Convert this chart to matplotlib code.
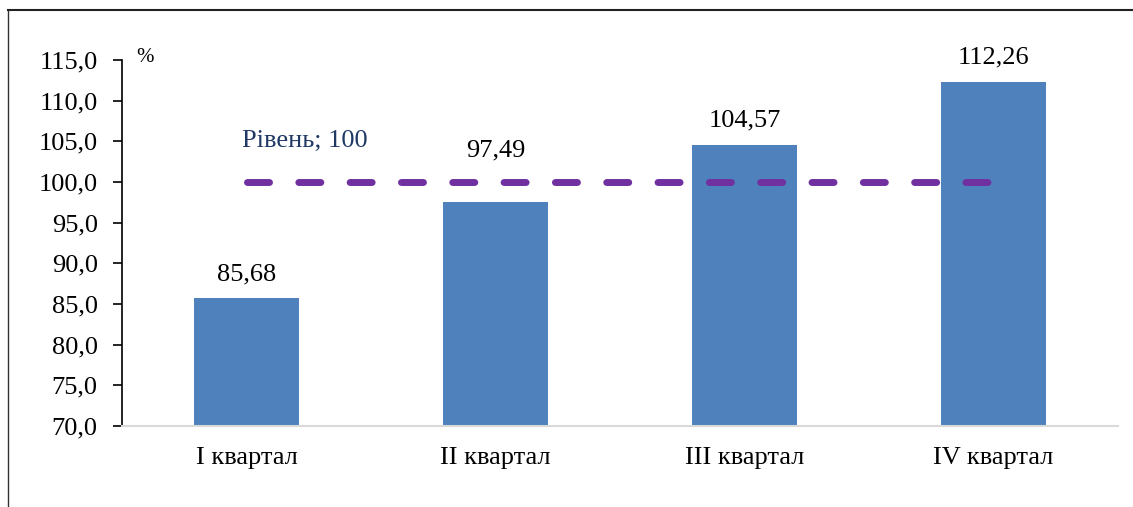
import matplotlib
matplotlib.use("Agg")
import matplotlib.pyplot as plt
from matplotlib.lines import Line2D

categories = ["I квартал", "II квартал", "III квартал", "IV квартал"]
values = [85.68, 97.49, 104.57, 112.26]
value_labels = ["85,68", "97,49", "104,57", "112,26"]
level = 100
level_label = "Рівень; 100"
yticks = [70, 75, 80, 85, 90, 95, 100, 105, 110, 115]
ytick_labels = ["70,0", "75,0", "80,0", "85,0", "90,0", "95,0", "100,0", "105,0", "110,0", "115,0"]

plt.rcParams['font.family'] = ['Liberation Serif', 'DejaVu Serif']

W, H = 1133, 507
FS = 19
fig = plt.figure(figsize=(W/100, H/100), dpi=100)
ax = fig.add_axes([122/W, 1-426/H, (1118-122)/W, (426-60)/H])

x = list(range(len(categories)))
ax.bar(x, values, width=0.42, color="#4F81BD", zorder=2)
for xi, v, lab in zip(x, values, value_labels):
    # label of a bar that sits just under the level line is lifted above it
    off = 6.4 if (level - 4 < v < level) else 3.0
    ax.text(xi, v + off, lab, ha="center", va="center", fontsize=FS, color="black")

ax.plot([x[0], x[-1]], [level, level], color="#7030A0", lw=5, linestyle=(0, (3.17, 4.22)),
        dash_capstyle="round", zorder=3)
ax.text(x[0] - 0.02, level + 5.0, level_label, ha="left", va="center", fontsize=FS, color="#1F3864")

ax.set_xlim(-0.5, 3.5)
ax.set_ylim(70, 115)
ax.set_yticks(yticks)
ax.set_yticklabels(ytick_labels, fontsize=FS)
ax.set_xticks(x)
ax.set_xticklabels(categories, fontsize=FS)
ax.tick_params(axis="x", length=0, pad=15)
ax.tick_params(axis="y", direction="out", length=6.5, width=1.2, pad=11)
for s in ["top", "right"]:
    ax.spines[s].set_visible(False)
ax.spines["left"].set_linewidth(1.2)
ax.spines["bottom"].set_color("#D9D9D9")
ax.spines["bottom"].set_linewidth(1.5)

fig.text(136/W, 1-57/H, "%", fontsize=15, ha="left", va="center")

fig.add_artist(Line2D([8/W, 8/W], [0, 1-10/H], transform=fig.transFigure, color="#333333", lw=1))
fig.add_artist(Line2D([8/W, 1], [1-10/H, 1-10/H], transform=fig.transFigure, color="#222222", lw=1.5))

fig.savefig("out.png", dpi=100)
